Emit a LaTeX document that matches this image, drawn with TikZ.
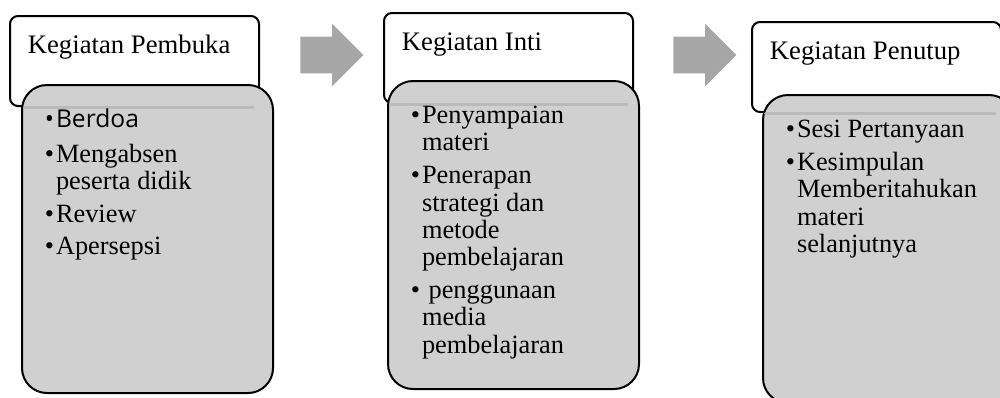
\documentclass[tikz,border=0pt]{standalone}
\usepackage{fontspec}
\setmainfont{Liberation Serif}
\newfontfamily\itemsans{Open Sans}
\usetikzlibrary{shapes.arrows, positioning}
\definecolor{boxgray}{HTML}{D0D0D0}
\definecolor{arrowgray}{HTML}{A6A6A6}
\definecolor{seamgray}{HTML}{BABABA}

\begin{document}
\begin{tikzpicture}[
    x=0.2mm, y=-0.2mm,
    head/.style={rectangle, rounded corners=1.6mm, draw=black, line width=0.4mm, fill=white, minimum width=4.98cm, minimum height=1.8cm, anchor=north west},
    body/.style={rectangle, rounded corners=5mm, draw=black, line width=0.4mm, fill=boxgray, minimum width=5.02cm, minimum height=6.16cm, anchor=north west},
    headtext/.style={inner sep=0pt, font=\fontsize{15.2}{15.6}\selectfont},
    items/.style={inner sep=0pt, font=\fontsize{15}{15.6}\selectfont},
    blockarrow/.style={single arrow, fill=arrowgray, inner xsep=0pt, inner ysep=3.6mm, minimum height=1.26cm, minimum width=1.24cm, single arrow head extend=2.6mm, single arrow tip angle=90},
    seam/.style={seamgray, line width=1.7pt, line cap=round}
]
\useasboundingbox (0,0) rectangle (1000,397);

% kegiatan pembuka
\node[head] (h1) at (9,15) {};
\node[body] (g1) at (21,84) {};
\draw[seam] ([xshift=0.7mm]h1.south -| g1.west) -- ([xshift=-1.4mm]h1.south east);
\node[headtext, below right=7.7mm and 3.7mm of h1.north west, anchor=base west] (t1) {Kegiatan Pembuka};
\node[items, below right=8.7mm and 4.7mm of g1.north west, anchor=base west] (l1) {%
  \begin{tabular}[t]{@{}l@{\hspace{1.1pt}}l@{}}
  {\fontsize{14}{15.6}\itemsans\textbullet} & {\fontsize{14}{15.6}\itemsans Berdoa}\\[4.3pt]
  \textbullet & Mengabsen\\
   & peserta didik\\[2.8pt]
  \textbullet & Review\\[2.6pt]
  \textbullet & Apersepsi
  \end{tabular}};

% kegiatan inti
\node[head] (h2) at (383,12) {};
\node[body] (g2) at (387,80) {};
\draw[seam] ([xshift=0.7mm]h2.south -| g2.west) -- ([xshift=-1.4mm]h2.south east);
\node[headtext, below right=7.7mm and 3.7mm of h2.north west, anchor=base west] (t2) {Kegiatan Inti};
\node[items, below right=8.7mm and 4.7mm of g2.north west, anchor=base west] (l2) {%
  \begin{tabular}[t]{@{}l@{\hspace{1.1pt}}l@{}}
  \textbullet & Penyampaian\\
   & materi\\[3pt]
  \textbullet & Penerapan\\
   & strategi dan\\
   & metode\\
   & pembelajaran\\[3pt]
  \textbullet & \ penggunaan\\
   & media\\
   & pembelajaran
  \end{tabular}};

% kegiatan penutup
\node[head] (h3) at (751,21) {};
\node[body] (g3) at (762,94) {};
\draw[seam] ([xshift=0.7mm]h3.south -| g3.west) -- ([xshift=-1.4mm]h3.south east);
\node[headtext, below right=7.7mm and 3.7mm of h3.north west, anchor=base west] (t3) {Kegiatan Penutup};
\node[items, below right=8.7mm and 4.7mm of g3.north west, anchor=base west] (l3) {%
  \begin{tabular}[t]{@{}l@{\hspace{1.1pt}}l@{}}
  \textbullet & Sesi Pertanyaan\\[3pt]
  \textbullet & Kesimpulan\\
   & Memberitahukan\\
   & materi\\
   & selanjutnya
  \end{tabular}};

% arrows
\node[blockarrow, right=8mm of h1.east, yshift=1.2mm] (a1) {};
\node[blockarrow, right=7.8mm of h2.east, yshift=0.6mm] (a2) {};
\end{tikzpicture}
\end{document}
